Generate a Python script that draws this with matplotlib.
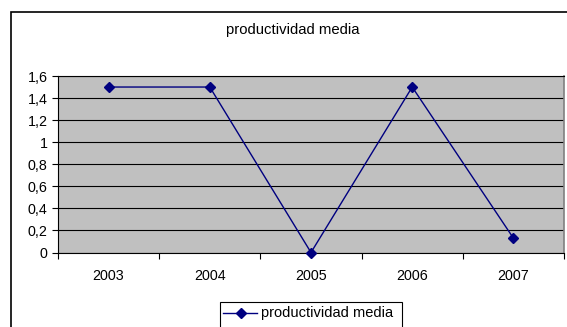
import matplotlib
matplotlib.use("Agg")
import matplotlib.pyplot as plt
import numpy as np
from matplotlib.patches import Rectangle
from matplotlib.lines import Line2D

plt.rcParams['font.family'] = ['Liberation Sans', 'DejaVu Sans']

years = ['2003', '2004', '2005', '2006', '2007']
productividad = [1.5, 1.5, 0.0, 1.5, 0.13]
yticks = [0, 0.2, 0.4, 0.6, 0.8, 1.0, 1.2, 1.4, 1.6]
ytick_labels = ['0', '0,2', '0,4', '0,6', '0,8', '1', '1,2', '1,4', '1,6']

W, H = 567, 327
fig = plt.figure(figsize=(W / 100, H / 100), dpi=100)

# chart frame (runs off the right and bottom edges)
fig.patches.append(Rectangle((11 / W, -0.1), 1.2, 1 - 12 / H + 0.1,
                             transform=fig.transFigure, fill=False,
                             edgecolor='black', linewidth=1.2))

ax = fig.add_axes([58 / W, 1 - 252.5 / H, (564 - 58) / W, (252.5 - 76) / H])
ax.set_facecolor('#c0c0c0')

x = np.arange(len(years))
ax.plot(x, productividad, color='#000080', linewidth=1.0,
        marker='D', markersize=5, zorder=3, clip_on=False)

ax.set_xlim(-0.5, len(years) - 0.5)
ax.set_ylim(0, 1.6)

ax.set_yticks(yticks)
ax.set_yticklabels(ytick_labels, fontsize=10.3)
ax.yaxis.grid(True, color='black', linewidth=0.8)
ax.set_axisbelow(True)
ax.tick_params(axis='y', direction='out', length=4.5, width=0.8, pad=3)

ax.set_xticks(x)
ax.set_xticklabels(years, fontsize=10.3)
ax.set_xticks(np.arange(len(years) + 1) - 0.5, minor=True)
ax.tick_params(axis='x', which='major', length=0, pad=12)
ax.tick_params(axis='x', which='minor', direction='out', length=4.5, width=0.8)

for side in ('left', 'bottom', 'top'):
    ax.spines[side].set_color('black')
    ax.spines[side].set_linewidth(0.8)
ax.spines['right'].set_color('#808080')
ax.spines['right'].set_linewidth(1.2)

fig.text(293 / W, 1 - 30 / H, 'productividad media', ha='center', va='center',
         fontsize=10.7)

# legend box, cut off at the bottom edge
fig.patches.append(Rectangle((220 / W, -0.1), (402 - 220) / W, 1 - 302 / H + 0.1,
                             transform=fig.transFigure, fill=False,
                             edgecolor='black', linewidth=0.8))
fig.lines.append(Line2D([223 / W, 257 / W], [1 - 313 / H] * 2,
                        transform=fig.transFigure, color='#000080',
                        linewidth=1.0))
fig.lines.append(Line2D([241 / W], [1 - 313 / H], transform=fig.transFigure,
                        color='#000080', marker='D', markersize=5))
fig.text(261 / W, 1 - 313 / H, 'productividad media', ha='left', va='center',
         fontsize=10.5)

fig.savefig('out.png', dpi=100)
